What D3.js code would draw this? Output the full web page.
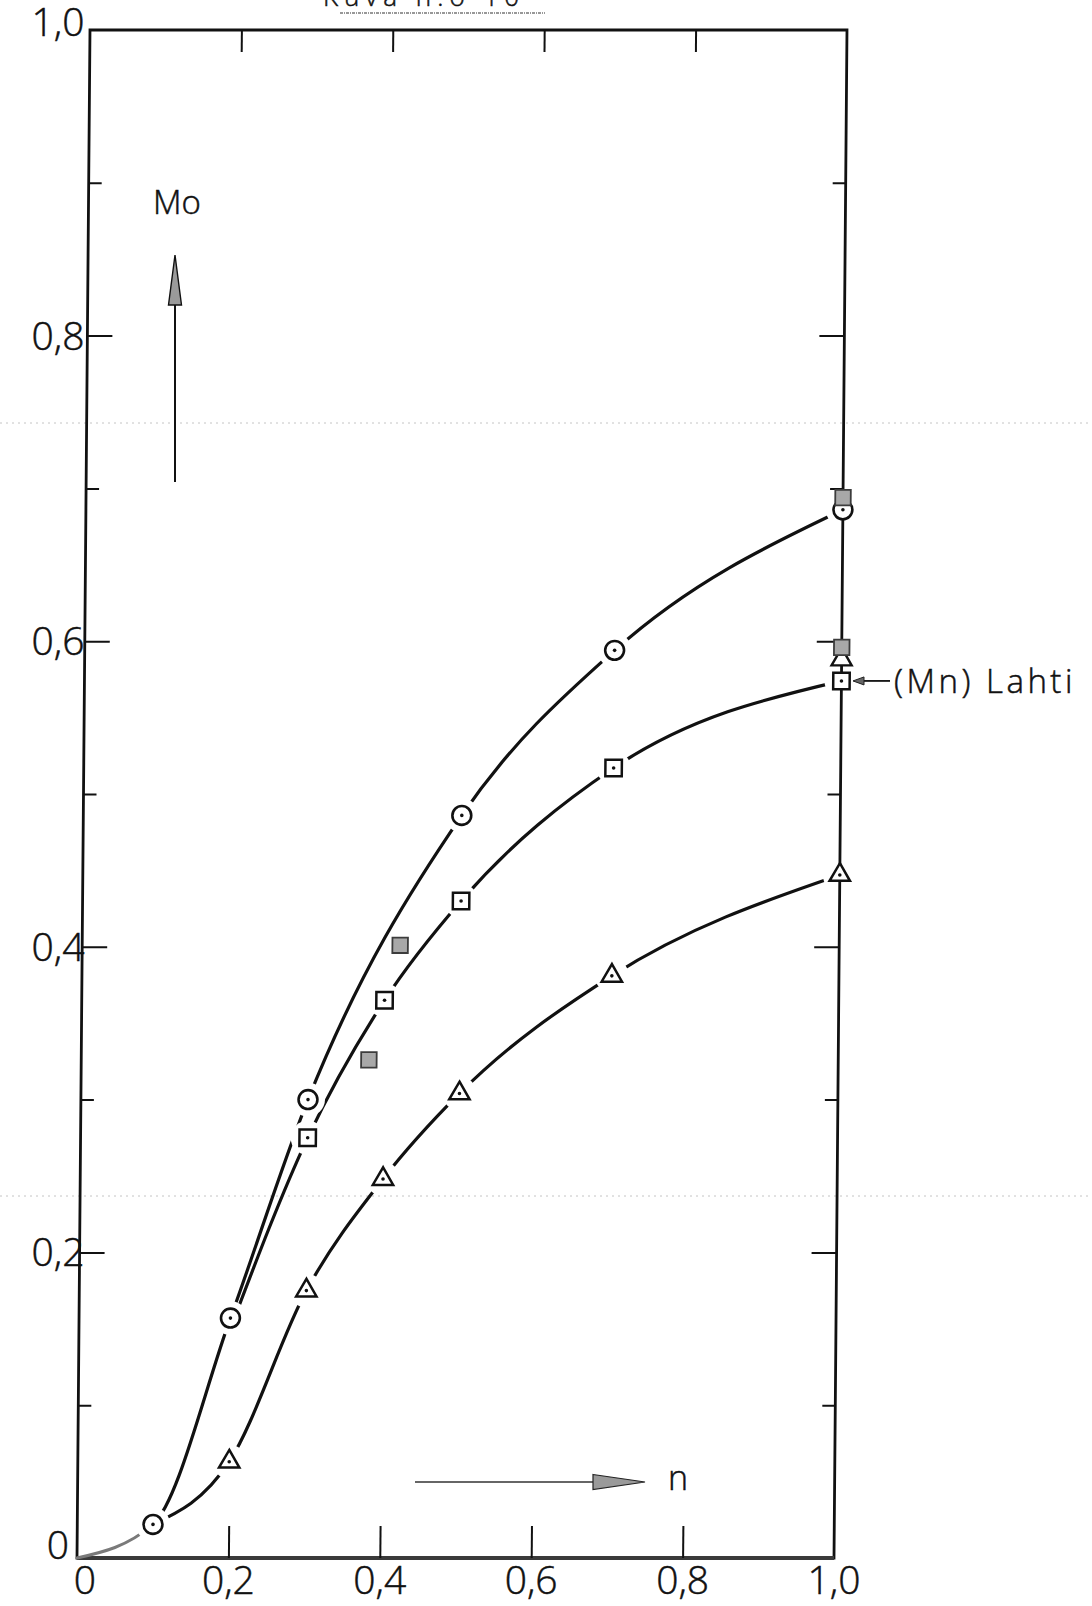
<!DOCTYPE html>
<html>
<head>
<meta charset="utf-8">
<script src="https://cdn.jsdelivr.net/npm/d3@7/dist/d3.min.js"></script>
<style>
  html, body { margin: 0; padding: 0; background: #fff; }
  svg { display: block; }
  text { font-family: "Open Sans", "DejaVu Sans", sans-serif; font-weight: 300; fill: #111; stroke: #111; stroke-width: 0.5px; }
</style>
</head>
<body>
<svg id="chart" width="1092" height="1606"></svg>
<script>
// n on the horizontal axis, Mo on the vertical axis
const tickValues = [0, 0.2, 0.4, 0.6, 0.8, 1.0];
const tickLabels = ["0", "0,2", "0,4", "0,6", "0,8", "1,0"];
const minorTicks = [0.1, 0.3, 0.5, 0.7, 0.9];
const innerMajor = [0.2, 0.4, 0.6, 0.8];

// circles (curve starts at the origin)
const nCircle  = [0, 0.1, 0.2, 0.3, 0.5, 0.7, 1.0];
const moCircle = [0, 0.022, 0.157, 0.300, 0.486, 0.594, 0.686];

// squares with dot; the curve leaves the circle at n = 0,2 on its lower side
const nSquare  = [0.2, 0.3, 0.4, 0.5, 0.7, 1.0];
const moSquare = [0.150, 0.275, 0.365, 0.430, 0.517, 0.574];

// triangles; the curve leaves the circle at n = 0,1
const nTriangle  = [0.1, 0.2, 0.3, 0.4, 0.5, 0.7, 1.0];
const moTriangle = [0.022, 0.063, 0.175, 0.248, 0.304, 0.381, 0.447];

// grey filled squares
const nGrey  = [0.38, 0.42, 1.0, 1.0];
const moGrey = [0.326, 0.401, 0.694, 0.596];

// Lahti reference point (Mn), triangle behind the squares
const nLahtiTri  = [1.0];
const moLahtiTri = [0.588];

const labelLahti = "(Mn) Lahti";
const labelY = "Mo";
const labelX = "n";
const heading = "Kuva n:o 10";

const svg = d3.select("#chart");
const W = 1092, H = 1606;

const x = d3.scaleLinear().domain([0, 1]).range([77, 834]);
const y = d3.scaleLinear().domain([0, 1]).range([1558, 30]);

// faint page lines
const pageLines = svg.append("g").attr("stroke", "#c4c4c4").attr("stroke-width", 1)
  .attr("stroke-dasharray", "2,4");
[423, 1196].forEach(py => pageLines.append("line").attr("x1", 0).attr("x2", W).attr("y1", py).attr("y2", py));

// heading, largely cut off at the top edge
svg.append("text").attr("x", 424).attr("y", 6).attr("text-anchor", "middle")
  .style("font-size", "26px").style("letter-spacing", "6px").text(heading);
svg.append("line").attr("x1", 340).attr("x2", 545).attr("y1", 13).attr("y2", 13)
  .attr("stroke", "#777").attr("stroke-width", 1.5).attr("stroke-dasharray", "3,1,1,1");

// plot area, leaning slightly to the right towards the top
const lean = 0.0085;
const skewDeg = -Math.atan(lean) * 180 / Math.PI;
const y0 = y(0);
const g = svg.append("g")
  .attr("transform", `translate(0,${y0}) skewX(${skewDeg}) translate(0,${-y0})`);

const defs = svg.append("defs");

// frame
g.append("rect")
  .attr("x", x(0)).attr("y", y(1))
  .attr("width", x(1) - x(0)).attr("height", y(0) - y(1))
  .attr("fill", "none").attr("stroke", "#111").attr("stroke-width", 2.8);
g.append("line").attr("x1", x(0)).attr("x2", x(1)).attr("y1", y(0)).attr("y2", y(0))
  .attr("stroke", "#3a3a3a").attr("stroke-width", 3.8);

// inward ticks
function ticks(axis, tr) {
  const a = g.append("g").attr("transform", tr).call(axis);
  a.select(".domain").remove();
  a.selectAll("line").attr("stroke", "#111").attr("stroke-width", 2);
  a.selectAll("text").remove();
}
ticks(d3.axisRight(y).tickValues(minorTicks).tickSize(13).tickFormat(""), `translate(${x(0)},0)`);
ticks(d3.axisRight(y).tickValues(innerMajor).tickSize(25).tickFormat(""), `translate(${x(0)},0)`);
ticks(d3.axisLeft(y).tickValues(minorTicks).tickSize(13).tickFormat(""), `translate(${x(1)},0)`);
ticks(d3.axisLeft(y).tickValues(innerMajor).tickSize(25).tickFormat(""), `translate(${x(1)},0)`);
ticks(d3.axisTop(x).tickValues(innerMajor).tickSize(32).tickFormat(""), `translate(0,${y(0)})`);
ticks(d3.axisBottom(x).tickValues(innerMajor).tickSize(22).tickFormat(""), `translate(0,${y(1)})`);

// series points
const circles = nCircle.map((n, i) => [n, moCircle[i]]);
const squares = nSquare.map((n, i) => [n, moSquare[i]]);
const triangles = nTriangle.map((n, i) => [n, moTriangle[i]]);
const greys = nGrey.map((n, i) => [n, moGrey[i]]);
const lahtiTri = nLahtiTri.map((n, i) => [n, moLahtiTri[i]]);

// the first square and triangle points are branch points on the circle curve
const squareMarks = squares.slice(1);
const triangleMarks = triangles.slice(1);
const circleMarks = circles.slice(1);

// gaps in the curves around each plotted symbol
const mask = defs.append("mask").attr("id", "gaps").attr("maskUnits", "userSpaceOnUse")
  .attr("x", 0).attr("y", 0).attr("width", W).attr("height", H);
mask.append("rect").attr("x", 0).attr("y", 0).attr("width", W).attr("height", H).attr("fill", "#fff");
circleMarks.concat(squareMarks, triangleMarks).forEach(d => {
  mask.append("circle").attr("cx", x(d[0])).attr("cy", y(d[1])).attr("r", 17).attr("fill", "#000");
});

const line = d3.line().x(d => x(d[0])).y(d => y(d[1])).curve(d3.curveMonotoneX);

defs.append("clipPath").attr("id", "afterFirst").append("rect")
  .attr("x", x(0.1)).attr("y", 0).attr("width", W).attr("height", H);
defs.append("clipPath").attr("id", "beforeFirst").append("rect")
  .attr("x", 0).attr("y", 0).attr("width", x(0.1)).attr("height", H);

const curves = g.append("g").attr("mask", "url(#gaps)").attr("fill", "none")
  .attr("stroke-linecap", "round");
curves.append("path").attr("d", line(circles)).attr("stroke", "#7a7a7a").attr("stroke-width", 3)
  .attr("clip-path", "url(#beforeFirst)");
curves.append("path").attr("d", line(circles)).attr("stroke", "#111").attr("stroke-width", 3.2)
  .attr("clip-path", "url(#afterFirst)");
curves.append("path").attr("d", line(squares)).attr("stroke", "#111").attr("stroke-width", 3.2);
curves.append("path").attr("d", line(triangles)).attr("stroke", "#111").attr("stroke-width", 3.2);

// symbols
const sym = d3.symbol();
function dots(data) {
  g.append("g").selectAll("circle").data(data).join("circle")
    .attr("cx", d => x(d[0])).attr("cy", d => y(d[1])).attr("r", 1.8).attr("fill", "#111");
}
function drawSymbols(data, type, size, fill, stroke, sw) {
  g.append("g").selectAll("path").data(data).join("path")
    .attr("transform", d => `translate(${x(d[0])},${y(d[1])})`)
    .attr("d", sym.type(type).size(size)())
    .attr("fill", fill).attr("stroke", stroke).attr("stroke-width", sw);
}

drawSymbols(lahtiTri, d3.symbolTriangle, 175, "#fff", "#111", 2.4);
drawSymbols(circleMarks, d3.symbolCircle, 280, "#fff", "#111", 2.6);
dots(circleMarks);
drawSymbols(triangleMarks, d3.symbolTriangle, 180, "#fff", "#111", 2.5);
dots(triangleMarks);
drawSymbols(greys, d3.symbolSquare, 240, "#a8a8a8", "#3c3c3c", 1.8);
drawSymbols(squareMarks, d3.symbolSquare, 270, "#fff", "#111", 2.5);
dots(squareMarks);

// tick labels
const labels = svg.append("g").style("font-size", "39px");
labels.selectAll("text.y").data(tickValues).join("text").attr("class", "y")
  .attr("x", 58).attr("text-anchor", "middle")
  .attr("y", d => y(d) + 14 - (d === 0 ? 13 : d === 1 ? 8 : 0))
  .text((d, i) => tickLabels[i]);
labels.selectAll("text.x").data(tickValues).join("text").attr("class", "x")
  .attr("x", d => x(d) + (d === 0 ? 8 : 0)).attr("text-anchor", "middle")
  .attr("y", 1594)
  .text((d, i) => tickLabels[i]);

// axis direction arrows
const ax = svg.append("g");
ax.append("line").attr("x1", 175).attr("x2", 175).attr("y1", 482).attr("y2", 300)
  .attr("stroke", "#111").attr("stroke-width", 2);
ax.append("path").attr("d", "M175,255 L168.5,305 L181.5,305 Z")
  .attr("fill", "#9a9a9a").attr("stroke", "#111").attr("stroke-width", 1.4);
ax.append("text").attr("x", 177).attr("y", 214).attr("text-anchor", "middle")
  .style("font-size", "33px").text(labelY);

ax.append("line").attr("x1", 415).attr("x2", 600).attr("y1", 1482).attr("y2", 1482)
  .attr("stroke", "#333").attr("stroke-width", 1.6);
ax.append("path").attr("d", "M593,1474.5 L645,1482 L593,1489.5 Z")
  .attr("fill", "#9a9a9a").attr("stroke", "#222").attr("stroke-width", 1.2);
ax.append("text").attr("x", 668).attr("y", 1490)
  .style("font-size", "34px").text(labelX);

// Lahti annotation pointing at the square at n = 1,0
const lahtiY = y(moSquare[nSquare.indexOf(1.0)]);
ax.append("line").attr("x1", 862).attr("x2", 890).attr("y1", lahtiY).attr("y2", lahtiY)
  .attr("stroke", "#111").attr("stroke-width", 1.8);
ax.append("path").attr("d", `M853,${lahtiY} L864,${lahtiY - 4} L864,${lahtiY + 4} Z`)
  .attr("fill", "#666").attr("stroke", "#222").attr("stroke-width", 1);
ax.append("text").attr("x", 894).attr("y", lahtiY + 12)
  .style("font-size", "33px").style("letter-spacing", "3.5px").text(labelLahti);
</script>
</body>
</html>
